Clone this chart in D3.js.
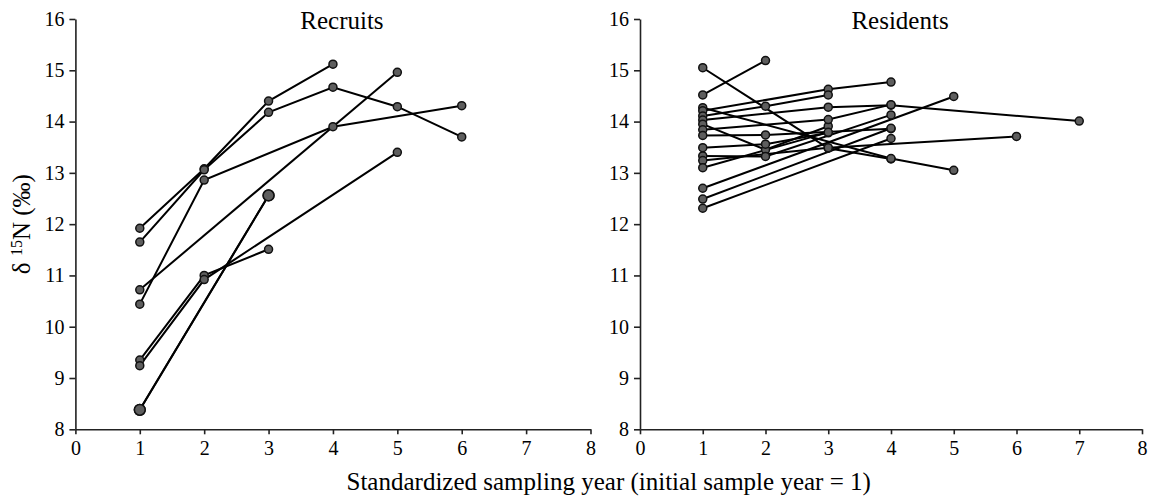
<!DOCTYPE html>
<html>
<head>
<meta charset="utf-8">
<script src="https://cdn.jsdelivr.net/npm/d3@7"></script>
<style>
  body { margin: 0; background: #fff; }
  text { font-family: "Liberation Serif", "Times New Roman", serif; fill: #000; }
</style>
</head>
<body>
<svg id="chart" width="1151" height="500"></svg>
<script>
// panel titles and axis labels
const panelTitles = ["Recruits", "Residents"];
const xTickValues = [0, 1, 2, 3, 4, 5, 6, 7, 8];
const yTickValues = [8, 9, 10, 11, 12, 13, 14, 15, 16];
const xTitle = "Standardized sampling year (initial sample year = 1)";

// each individual: [sampling year, d15N]
const recruits = [
  [[1, 11.92], [2, 13.08], [3, 14.40], [4, 15.12]],
  [[1, 11.65], [2, 13.06], [3, 14.18], [4, 14.67], [5, 14.29], [6, 13.70]],
  [[1, 10.44], [2, 12.86], [4, 13.90], [6, 14.31]],
  [[1, 10.72], [5, 14.96]],
  [[1, 9.35], [2, 11.00], [3, 11.51]],
  [[1, 9.24], [2, 10.92], [5, 13.40]],
  [[1, 8.38], [3, 12.56]],
  [[1, 8.38], [3, 12.56]]
];

const residents = [
  [[1, 15.05], [3, 13.48], [4, 13.27]],
  [[1, 14.52], [2, 15.19]],
  [[1, 14.27], [4, 13.28], [5, 13.05]],
  [[1, 14.21], [3, 14.63], [4, 14.77]],
  [[1, 14.11], [2, 14.30], [3, 14.52]],
  [[1, 14.03], [3, 14.28], [4, 14.32], [7, 14.01]],
  [[1, 13.95], [2, 13.45], [3, 13.91]],
  [[1, 13.84], [3, 14.04], [4, 14.33]],
  [[1, 13.73], [2, 13.74], [4, 13.86]],
  [[1, 13.49], [2, 13.56], [3, 13.78]],
  [[1, 13.33], [2, 13.32], [4, 14.13]],
  [[1, 13.24], [3, 13.49], [6, 13.71]],
  [[1, 13.10], [3, 13.79]],
  [[1, 12.70], [5, 14.49]],
  [[1, 12.49], [4, 13.87]],
  [[1, 12.31], [4, 13.67]]
];

const svg = d3.select("#chart");
const plotTop = 19, plotBottom = 429.3;
const panelRanges = [[75.4, 590.5], [640, 1142]];
const panelData = [recruits, residents];

let y = d3.scaleLinear().domain([8, 16]).range([plotBottom, plotTop]);

panelData.forEach((series, p) => {
  let x = d3.scaleLinear().domain([0, 8]).range(panelRanges[p]);
  let g = svg.append("g").attr("class", `panel${p}`);

  // axes
  let yAxis = g.append("g")
    .attr("transform", `translate(${x(0)},0)`)
    .call(d3.axisLeft(y).tickValues(yTickValues).tickSize(6).tickPadding(5).tickSizeOuter(0));
  let xAxis = g.append("g")
    .attr("transform", `translate(0,${plotBottom})`)
    .call(d3.axisBottom(x).tickValues(xTickValues).tickSize(5).tickPadding(7).tickSizeOuter(0));

  [xAxis, yAxis].forEach(a => {
    a.selectAll("path, line").attr("stroke", "#222").attr("stroke-width", 1.6);
    a.selectAll("text").attr("font-size", 20).attr("fill", "#000")
      .style("font-family", '"Liberation Serif", serif');
  });

  // lines
  let line = d3.line().x(d => x(d[0])).y(d => y(d[1]));
  g.selectAll("path.series")
    .data(series)
    .enter()
    .append("path")
    .attr("class", "series")
    .attr("d", line)
    .attr("fill", "none")
    .attr("stroke", "#000")
    .attr("stroke-width", 2);

  // markers, bigger where several individuals share the same point
  let counts = d3.rollup(series.flat(), v => v.length, d => `${d[0]}|${d[1]}`);
  g.selectAll("circle")
    .data(series.flat())
    .enter()
    .append("circle")
    .attr("cx", d => x(d[0]))
    .attr("cy", d => y(d[1]))
    .attr("r", d => (counts.get(`${d[0]}|${d[1]}`) > 1 ? 5.4 : 4))
    .attr("fill", "#5e5e5e")
    .attr("stroke", "#111")
    .attr("stroke-width", 1.5);

  g.append("text")
    .text(panelTitles[p])
    .attr("x", (x(0) + x(8)) / 2 + 9)
    .attr("y", 29)
    .attr("text-anchor", "middle")
    .attr("font-size", 25);
});

// shared x title
svg.append("text")
  .text(xTitle)
  .attr("x", (panelRanges[0][0] + panelRanges[1][1]) / 2)
  .attr("y", 490)
  .attr("text-anchor", "middle")
  .attr("font-size", 25);

// y title with superscript
let yLabel = svg.append("text")
  .attr("transform", `translate(30,${(plotTop + plotBottom) / 2}) rotate(-90)`)
  .attr("text-anchor", "middle")
  .attr("font-size", 25);
yLabel.append("tspan").text("δ ");
yLabel.append("tspan").text("15").attr("font-size", 16).attr("dy", -8);
yLabel.append("tspan").text("N (‰)").attr("dy", 8);
</script>
</body>
</html>
